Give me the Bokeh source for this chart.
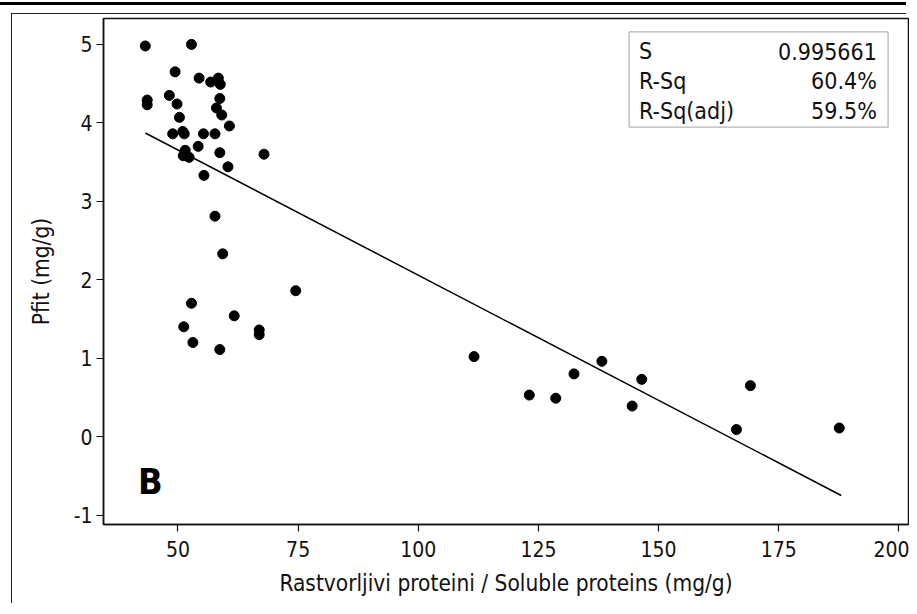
from bokeh.plotting import figure
from bokeh.models import Range1d, FixedTicker, BoxAnnotation, Label
from bokeh.embed import file_html
from bokeh.resources import INLINE

# ---- data ----
protein = [43.2, 52.8, 49.4, 54.4, 56.8, 58.4, 58.8, 48.2, 43.6, 43.6,
           49.8, 58.7, 58.0, 59.1, 50.3, 60.7, 48.9, 51.0, 51.3, 55.3,
           57.7, 54.2, 51.5, 51.1, 52.3, 58.7, 67.9, 60.4, 55.4, 57.7,
           59.3, 52.8, 51.2, 53.1, 58.7, 61.7, 66.9, 66.9, 74.5, 111.6,
           123.1, 128.6, 132.4, 138.2, 146.5, 144.5, 169.1, 166.2, 187.6]
pfit = [4.98, 5.00, 4.65, 4.57, 4.52, 4.57, 4.49, 4.35, 4.29, 4.23,
        4.24, 4.31, 4.19, 4.10, 4.07, 3.96, 3.86, 3.89, 3.86, 3.86,
        3.86, 3.70, 3.65, 3.58, 3.56, 3.62, 3.60, 3.44, 3.33, 2.81,
        2.33, 1.70, 1.40, 1.20, 1.11, 1.54, 1.36, 1.30, 1.86, 1.02,
        0.53, 0.49, 0.80, 0.96, 0.73, 0.39, 0.65, 0.09, 0.11]
fit_x = [43.2, 188.0]
fit_y = [3.87, -0.75]
x_ticks = [50, 75, 100, 125, 150, 175, 200]
y_ticks = [-1, 0, 1, 2, 3, 4, 5]
stat_names = ["S", "R-Sq", "R-Sq(adj)"]
stat_values = ["0.995661", "60.4%", "59.5%"]
panel_letter = "B"
x_title = "Rastvorljivi proteini / Soluble proteins (mg/g)"
y_title = "Pfit (mg/g)"

FONT = "DejaVu Sans Condensed"

p = figure(width=909, height=606, output_backend="svg", toolbar_location=None,
           x_range=Range1d(34.5, 202.0), y_range=Range1d(-1.12, 5.33),
           min_border_left=103, min_border_right=1, min_border_top=18,
           min_border_bottom=82)
# page decoration: thick rule at the top, thin page frame on left/top
p.styles = {"border": "none", "outline": "none",
            "box-shadow": "inset -3px -3px 0 0 white, "
                          "inset 0 2px 0 0 white, inset 0 5px 0 0 black, "
                          "inset 11px 0 0 0 white, inset 0 13px 0 0 white, "
                          "inset 12px 0 0 0 #222222, inset 0 14px 0 0 #222222"}
p.grid.visible = False
p.background_fill_color = "white"
p.border_fill_color = None
p.outline_line_color = "#111111"
p.outline_line_width = 1.5

for ax, ticks, title in ((p.xaxis[0], x_ticks, x_title), (p.yaxis[0], y_ticks, y_title)):
    ax.ticker = FixedTicker(ticks=ticks)
    ax.axis_label = title
    ax.axis_label_text_font = FONT
    ax.axis_label_text_font_size = "22.5px"
    ax.axis_label_text_font_style = "normal"
    ax.axis_label_text_color = "#111111"
    ax.major_label_text_font = FONT
    ax.major_label_text_font_size = "21px"
    ax.major_label_text_color = "#111111"
    ax.axis_line_color = "#111111"
    ax.axis_line_width = 1.5
    ax.major_tick_line_color = "#111111"
    ax.major_tick_line_width = 1.2
    ax.major_tick_in = 0
    ax.major_tick_out = 7
    ax.minor_tick_line_color = None
p.yaxis.major_label_overrides = {t: str(t) for t in y_ticks}
p.xaxis.major_label_standoff = 9
p.xaxis.axis_label_standoff = 10
p.yaxis.major_label_standoff = 4
p.yaxis.axis_label_standoff = 17

# fitted line and points
p.line(fit_x, fit_y, line_color="black", line_width=1.5)
p.scatter(protein, pfit, size=10, marker="circle", fill_color="black",
          line_color="black")

# statistics box
p.add_layout(BoxAnnotation(left=525.6, right=784.6, top=492.6, bottom=397.3,
                           left_units="screen", right_units="screen",
                           top_units="screen", bottom_units="screen",
                           fill_color="white", fill_alpha=1,
                           line_color="#111111", line_width=1.3))
row_y = [473.5, 443.5, 413.5]
for name, val, yy in zip(stat_names, stat_values, row_y):
    p.add_layout(Label(x=535.6, y=yy, x_units="screen", y_units="screen",
                       text=name, text_font=FONT, text_font_size="23px",
                       text_color="#111111", text_baseline="alphabetic",
                       text_align="left"))
    p.add_layout(Label(x=773.3, y=yy, x_units="screen", y_units="screen",
                       text=val, text_font=FONT, text_font_size="23px",
                       text_color="#111111", text_baseline="alphabetic",
                       text_align="right"))

p.add_layout(Label(x=34.6, y=43, x_units="screen", y_units="screen",
                   text=panel_letter, text_font=FONT, text_font_size="36px",
                   text_font_style="bold", text_color="black",
                   text_baseline="alphabetic", text_align="left"))

open("out.html", "w").write(file_html(p, INLINE))
